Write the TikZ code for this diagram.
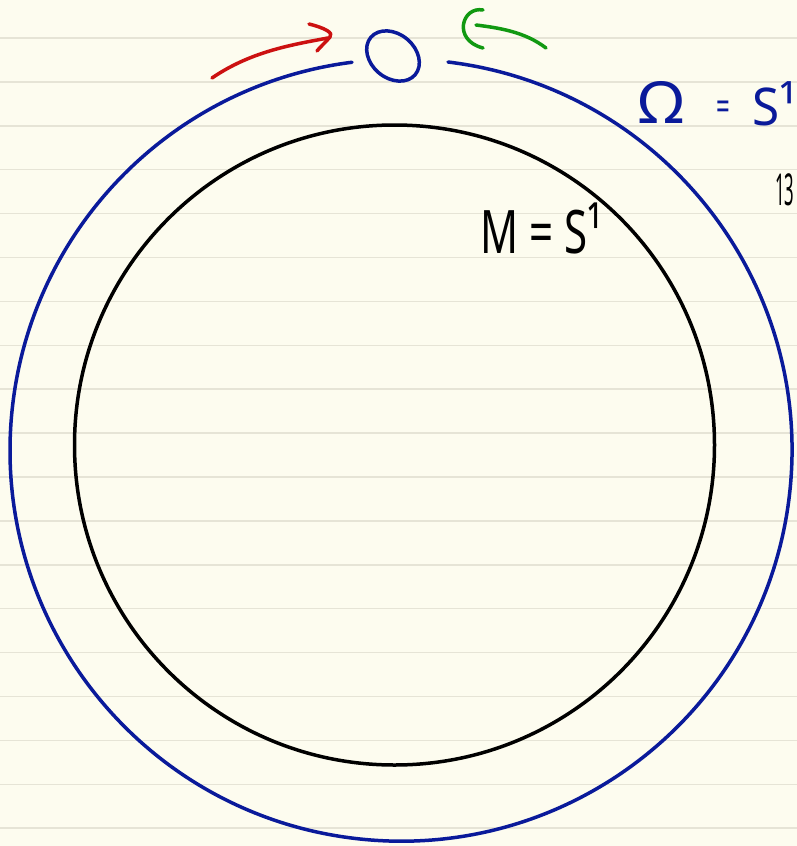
\documentclass[tikz,border=0pt]{standalone}
\usepackage{fontspec}
\setmainfont{Noto Sans}
\definecolor{paper}{HTML}{FDFCEF}
\definecolor{rule}{HTML}{E6E4D6}
\definecolor{penblue}{HTML}{0A1A9A}
\definecolor{penred}{HTML}{CC1111}
\definecolor{pengreen}{HTML}{119911}
\tikzset{
  pen/.style={line width=3.5pt, line cap=round, line join=round},
  lbl/.style={inner sep=0pt, anchor=base west, transform shape},
}
\begin{document}
\begin{tikzpicture}[x=1pt,y=-1pt]
\clip (0,0) rectangle (797,846);
\fill[paper] (0,0) rectangle (797,846);
% ruled lines
\foreach \k in {0,...,18} {
  \draw[rule, line width=1.5pt] (0,{38+43.9*\k}) -- (797,{38+43.9*\k});
}
% outer circle (blue) with gap at top
\draw[pen, penblue] (448,62) arc[start angle=83.1, end angle=-262.8, radius=391pt];
% small circle at the gap
\draw[pen, penblue] (393,56) ellipse[x radius=29pt, y radius=22pt, rotate=-40];
% inner circle (black)
\node[draw, pen, black, circle, minimum size=640pt, inner sep=0pt] (inner) at (394.5,445) {};
% red arrow
\draw[pen, penred] (212,78) .. controls (250,52) and (290,45) .. (328,38);
\draw[pen, penred] (309,24) .. controls (325,28) and (334,33) .. (330,37) .. controls (326,42) and (320,47) .. (317,51);
% green arrow
\draw[pen, pengreen] (546,48) .. controls (525,32) and (500,28) .. (476,25);
\draw[pen, pengreen] (483,10) .. controls (462,6) and (452,40) .. (483,48);
% labels
\node[lbl, penblue, font=\fontsize{58}{58}\selectfont, xscale=1.1] (om) at (638,123) {Ω};
\node[lbl, penblue, font=\fontsize{40}{40}\selectfont\bfseries, xscale=0.6] (omeq) at (716,120) {=};
\node[lbl, penblue, font=\fontsize{52}{52}\selectfont, xscale=0.95] (oms) at (752,125) {S¹};
\node[lbl, black, font=\fontsize{60}{60}\selectfont, xscale=0.7] (mlab) at (480,253) {M = S¹};
\node[lbl, black, font=\fontsize{44}{44}\selectfont\bfseries, xscale=0.38] (num) at (775,205) {13};
\end{tikzpicture}
\end{document}
